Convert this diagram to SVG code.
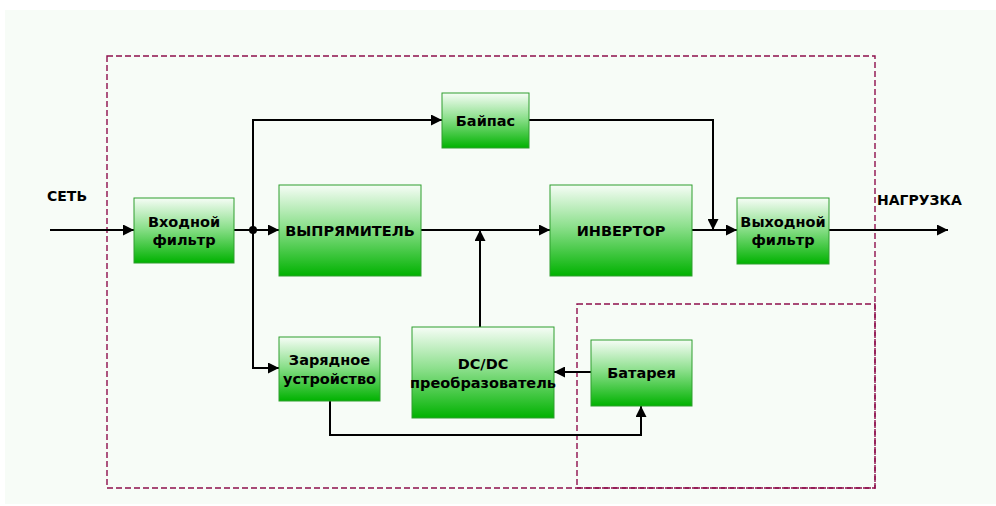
<svg xmlns="http://www.w3.org/2000/svg" width="996" height="506" viewBox="0 0 996 506">
<defs>
<linearGradient id="g" x1="0" y1="0" x2="0" y2="1">
<stop offset="0" stop-color="#f6fdf6"/>
<stop offset="0.45" stop-color="#8ee08e"/>
<stop offset="1" stop-color="#00b200"/>
</linearGradient>
<marker id="a" markerWidth="11" markerHeight="11" refX="11" refY="5.5" orient="auto" markerUnits="userSpaceOnUse">
<path d="M0,0 L11,5.5 L0,11 Z" fill="#000"/>
</marker>
<style>
.box{fill:url(#g);stroke:#2e9e2e;stroke-width:1}
.t{font-family:"DejaVu Sans","Liberation Sans",sans-serif;font-weight:bold;font-size:14.5px;fill:#000;text-anchor:middle}
.lbl{font-family:"DejaVu Sans","Liberation Sans",sans-serif;font-weight:bold;font-size:14px;fill:#000}
.w{fill:none;stroke:#000;stroke-width:2}
.arr{marker-end:url(#a)}
.dash{fill:none;stroke:#8e0f4c;stroke-width:1.4;stroke-dasharray:6 3}
</style>
</defs>
<rect x="5" y="10" width="991" height="494" fill="#f7fcf7"/>
<g id="frames">
<rect class="dash" x="107" y="56" width="768" height="432"/>
<rect class="dash" x="577" y="304" width="298" height="184"/>
</g>
<g id="connectors">
<line class="w arr" x1="50" y1="230" x2="134" y2="230"/>
<line class="w" x1="234" y1="230" x2="253" y2="230"/>
<line class="w arr" x1="253" y1="230" x2="279" y2="230"/>
<polyline class="w arr" points="253,230 253,120 442,120"/>
<polyline class="w arr" points="253,230 253,368 279,368"/>
<line class="w arr" x1="421" y1="230" x2="550" y2="230"/>
<line class="w arr" x1="480" y1="327" x2="480" y2="230"/>
<polyline class="w arr" points="529,120 713,120 713,230"/>
<line class="w arr" x1="692" y1="230" x2="737" y2="230"/>
<line class="w arr" x1="829" y1="230" x2="948" y2="230"/>
<line class="w arr" x1="591" y1="372" x2="554" y2="372"/>
<polyline class="w arr" points="330,401 330,435 641,435 641,406"/>
<circle cx="253" cy="230" r="4" fill="#000"/>
</g>
<g id="labels">
<text class="lbl" x="47" y="201">СЕТЬ</text>
<text class="lbl" x="877" y="205">НАГРУЗКА</text>
</g>
<g id="input-filter">
<rect class="box" x="134" y="198" width="100" height="65"/>
<text class="t" x="184" y="227">Входной</text>
<text class="t" x="184" y="245">фильтр</text>
</g>
<g id="bypass">
<rect class="box" x="442" y="93" width="87" height="55"/>
<text class="t" x="485.5" y="126">Байпас</text>
</g>
<g id="rectifier">
<rect class="box" x="279" y="185" width="142" height="91"/>
<text class="t" x="350" y="236">ВЫПРЯМИТЕЛЬ</text>
</g>
<g id="inverter">
<rect class="box" x="550" y="185" width="142" height="91"/>
<text class="t" x="621" y="236">ИНВЕРТОР</text>
</g>
<g id="output-filter">
<rect class="box" x="737" y="198" width="92" height="66"/>
<text class="t" x="783" y="227">Выходной</text>
<text class="t" x="783" y="245">фильтр</text>
</g>
<g id="charger">
<rect class="box" x="279" y="337" width="101" height="64"/>
<text class="t" x="329.5" y="365">Зарядное</text>
<text class="t" x="329.5" y="384">устройство</text>
</g>
<g id="dcdc">
<rect class="box" x="412" y="327" width="142" height="91"/>
<text class="t" x="483" y="369">DC/DC</text>
<text class="t" x="483" y="388">преобразователь</text>
</g>
<g id="battery">
<rect class="box" x="591" y="340" width="101" height="66"/>
<text class="t" x="641.5" y="378">Батарея</text>
</g>
</svg>
